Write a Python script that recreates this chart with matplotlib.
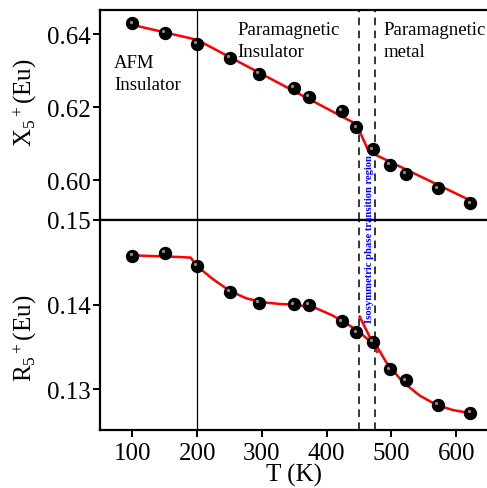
import matplotlib

matplotlib.use("Agg")

import matplotlib.pyplot as plt
import matplotlib.transforms as mtransforms

plt.rcParams["font.family"] = ["Liberation Serif", "DejaVu Serif"]
plt.rcParams["mathtext.fontset"] = "custom"
plt.rcParams["mathtext.rm"] = "Liberation Serif"
plt.rcParams["mathtext.it"] = "Liberation Serif:italic"

# measured points
temperature = [100, 150, 200, 250, 295, 350, 373, 423, 446, 472, 498, 522, 572, 622]
x5_eu = [0.6429, 0.6404, 0.6373, 0.6334, 0.6290, 0.6252, 0.6227, 0.6189,
         0.6144, 0.6084, 0.6042, 0.6016, 0.5977, 0.5936]
r5_eu = [0.14574, 0.14613, 0.14459, 0.14151, 0.14021, 0.14002, 0.13991,
         0.13801, 0.13671, 0.13553, 0.13233, 0.13103, 0.12815, 0.12720]

# red fit lines
x5_fit_t = [100, 200, 446, 465, 623]
x5_fit = [0.6425, 0.6384, 0.6153, 0.6078, 0.5943]

r5_fit_t = [100, 173, 190, 199, 224, 250, 276, 302, 328, 353, 384, 410, 436,
            451, 466, 477, 492, 518, 544, 570, 595, 621]
r5_fit = [0.14582, 0.14562, 0.14555, 0.14459, 0.14302, 0.14163, 0.14073,
          0.14026, 0.14006, 0.13998, 0.13955, 0.13867, 0.13749, 0.13671,
          0.13572, 0.13512, 0.13316, 0.13079, 0.12921, 0.12811, 0.12751, 0.12716]

r5_jump_t = [451, 478]
r5_jump = [0.13856, 0.13440]

afm_edge = 200
transition_edges = [450, 475]

W, H = 487, 489
fig = plt.figure(figsize=(W / 100, H / 100), dpi=100)
left, right = 100 / W, 488.5 / W
ax_top = fig.add_axes([left, 1 - 221 / H, right - left, 210 / H])
ax_bot = fig.add_axes([left, 1 - 431 / H, right - left, 210 / H])


def spheres(axis, xs, ys):
    axis.plot(xs, ys, "o", color="black", markersize=8.6, zorder=4)
    shift = mtransforms.offset_copy(axis.transData, fig=fig, x=-1.8, y=1.8, units="dots")
    axis.plot(xs, ys, "o", color="#9a9a9a", markersize=2.4, alpha=0.9,
              markeredgewidth=0, transform=shift, zorder=5)


for axis in (ax_top, ax_bot):
    axis.set_xlim(50, 650)
    axis.axvline(afm_edge, color="black", lw=0.9, zorder=1)
    for t in transition_edges:
        axis.axvline(t, color="black", lw=1.1, linestyle=(0, (5, 3.5)), zorder=1)
    for side in axis.spines.values():
        side.set_linewidth(1.6)
    axis.tick_params(axis="y", direction="out", length=5, width=1.4, labelsize=18, pad=2)
    axis.tick_params(axis="x", direction="out", length=5, width=1.4, labelsize=18, pad=4)

ax_top.plot(x5_fit_t, x5_fit, color="red", lw=1.8, zorder=3)
spheres(ax_top, temperature, x5_eu)
ax_top.set_ylim(0.58904, 0.64658)
ax_top.set_yticks([0.60, 0.62, 0.64])
ax_top.set_yticklabels(["0.60", "0.62", "0.64"])
ax_top.tick_params(axis="x", bottom=False, labelbottom=False)

ax_bot.plot(r5_fit_t, r5_fit, color="red", lw=1.8, zorder=3)
ax_bot.plot(r5_jump_t, r5_jump, color="red", lw=1.8, zorder=3)
spheres(ax_bot, temperature, r5_eu)
ax_bot.set_ylim(0.12515, 0.15)
ax_bot.set_yticks([0.13, 0.14, 0.15])
ax_bot.set_yticklabels(["0.13", "0.14", "0.15"])
ax_bot.set_xticks([100, 200, 300, 400, 500, 600])
ax_bot.set_xlabel("T (K)", fontsize=18, labelpad=-1)

fig.text(25 / W, 1 - 103 / H, r"X$_5$$^+$(Eu)", rotation=90, fontsize=18,
         ha="center", va="center")
fig.text(25 / W, 1 - 338 / H, r"R$_5$$^+$(Eu)", rotation=90, fontsize=18,
         ha="center", va="center")

ax_top.text(72, 0.6345, "AFM\nInsulator", fontsize=13.5, ha="left", va="top",
            linespacing=1.4)
ax_top.text(262, 0.6437, "Paramagnetic\nInsulator", fontsize=13.5, ha="left", va="top",
            linespacing=1.4)
ax_top.text(488, 0.6437, "Paramagnetic\nmetal", fontsize=13.5, ha="left", va="top",
            linespacing=1.4)

fig.text(370 / W, 1 - 239 / H, "Isosymmetric phase transition region", rotation=90,
         fontsize=7.7, fontweight="bold", color="blue", ha="center", va="center")

fig.savefig("out.png", dpi=100)
